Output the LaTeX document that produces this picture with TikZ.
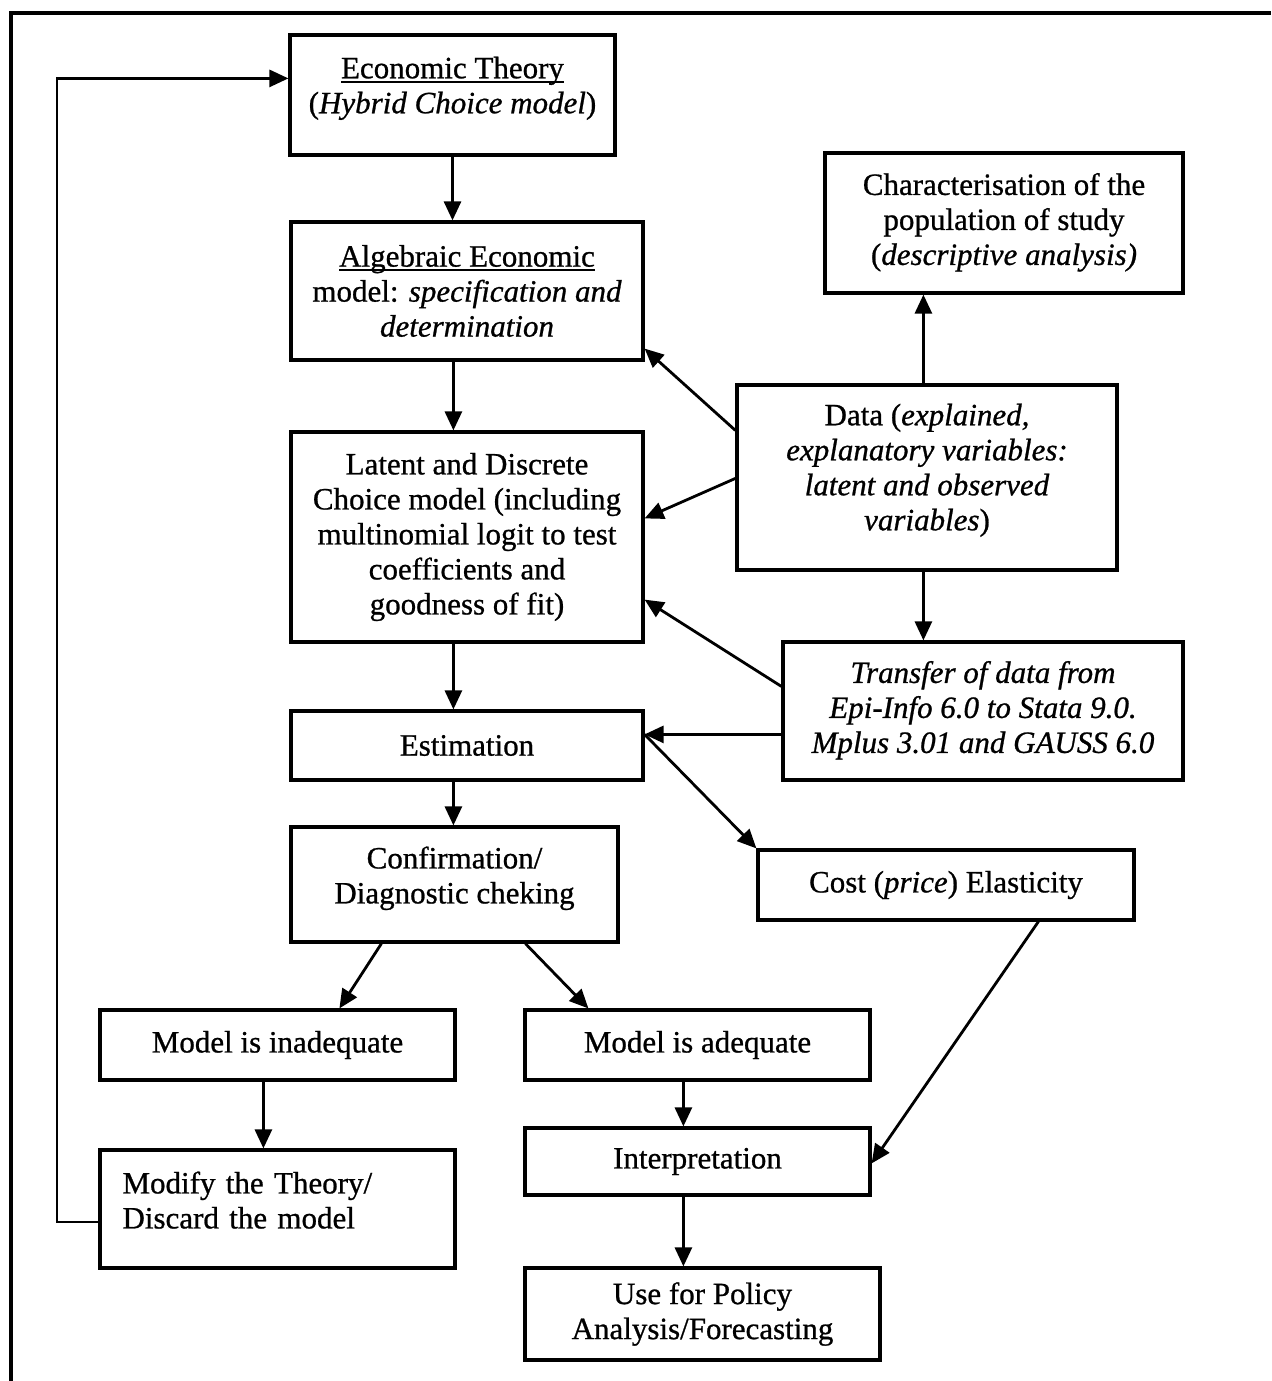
\documentclass[tikz,border=0pt]{standalone}
\usepackage{fontspec}
\setmainfont{Liberation Serif}[FakeBold=0.8]
\usetikzlibrary{arrows.meta,calc}
% extra depth under the last line, lifting the centred text a little
\newcommand{\lift}[1]{\rule[-#1]{0pt}{#1}}
% underline drawn just below the baseline
\newcommand{\uln}[1]{\begingroup\setbox0\hbox{#1}\rlap{\rule[-2.2pt]{\wd0}{0.9pt}}\box0\endgroup}
\tikzset{
  box/.style={draw, line width=1.6pt, rectangle, align=center, inner sep=2pt,
    font=\fontsize{15.5}{17.5}\selectfont},
  arr/.style={line width=1.4pt, -{Triangle[length=9.5pt,width=8.5pt]}},
  frame/.style={line width=1.6pt}
}
\begin{document}
\begin{tikzpicture}[x=0.5pt,y=-0.5pt]
\useasboundingbox (0,0) rectangle (1271,1381);
% outer frame
\draw[frame] (11,1381) -- (11,13) -- (1271,13);

% main chain
\node[box, minimum width=162.5pt, minimum height=60pt] (et) at (452.5,95)
  {\uln{Economic Theory}\\(\textit{Hybrid Choice model})\lift{10pt}};
\node[box, minimum width=176pt, minimum height=69pt] (alg) at (467,291)
  {\uln{Algebraic Economic}\\model: \textit{specification and}\\\textit{determination}};
\node[box, minimum width=176pt, minimum height=105pt] (lat) at (467,537)
  {Latent and Discrete\\Choice model (including\\multinomial logit to test\\coefficients and\\goodness of fit)};
\node[box, minimum width=176pt, minimum height=34.5pt] (est) at (467,745.5) {Estimation};
\node[box, minimum width=163.5pt, minimum height=57.5pt] (conf) at (454.5,884.5)
  {Confirmation/\\Diagnostic cheking\lift{9.5pt}};
\node[box, minimum width=177.5pt, minimum height=35pt] (inad) at (277.5,1045) {Model is inadequate};
\node[box, minimum width=177.5pt, minimum height=59pt, text width=155pt, align=left] (modif) at (277.5,1209)
  {Modify the Theory/\\Discard the model\lift{9pt}};
\node[box, minimum width=172.5pt, minimum height=35pt] (adeq) at (697.5,1045) {Model is adequate};
\node[box, minimum width=172.5pt, minimum height=33.5pt] (interp) at (697.5,1161.5) {Interpretation};
\node[box, minimum width=177.5pt, minimum height=46pt] (use) at (702.5,1314)
  {Use for Policy\\Analysis/Forecasting};

% data side
\node[box, minimum width=179pt, minimum height=70pt] (char) at (1004,223)
  {Characterisation of the\\population of study\\(\textit{descriptive analysis)}\lift{4pt}};
\node[box, minimum width=190pt, minimum height=92.5pt] (data) at (927,477.5)
  {Data (\textit{explained,}\\\textit{explanatory variables:}\\\textit{latent and observed}\\\textit{variables})\lift{10.5pt}};
\node[box, minimum width=200pt, minimum height=69pt] (trans) at (983,711)
  {\textit{Transfer of data from}\\\textit{Epi-Info 6.0 to Stata 9.0.}\\\textit{Mplus 3.01 and GAUSS 6.0}\lift{4pt}};
\node[box, minimum width=188pt, minimum height=35pt] (cost) at (946,885)
  {Cost (\textit{price}) Elasticity};

% vertical flow
\draw[arr] (et.south) -- (et.south |- alg.north);
\draw[arr] ([xshift=82pt]alg.south west) -- ([xshift=82pt]lat.north west);
\draw[arr] ([xshift=82pt]lat.south west) -- ([xshift=82pt]est.north west);
\draw[arr] ([xshift=82pt]est.south west) -- ([xshift=82pt]conf.north west);
\draw[arr] ([xshift=46pt]conf.south west) -- ([xshift=120.5pt]inad.north west);
\draw[arr] ([xshift=118pt]conf.south west) -- ([xshift=32.5pt]adeq.north west);
\draw[arr] ([xshift=82.5pt]inad.south west) -- ([xshift=82.5pt]modif.north west);
\draw[arr] ([xshift=80pt]adeq.south west) -- ([xshift=80pt]interp.north west);
\draw[arr] ([xshift=80pt]interp.south west) -- ([xshift=80pt]use.north west);

% feedback loop
\coordinate (fb) at (57,1222);
\draw[arr] ([yshift=-6.5pt]modif.west) -- (fb) |- ([yshift=-22.5pt]et.north west);

% data connections
\draw[arr] ([xshift=94pt]data.north west) -- ([xshift=94pt]data.north west |- char.south);
\draw[arr] ([xshift=94pt]data.south west) -- ([xshift=94pt]data.south west |- trans.north);
\draw[arr] ([yshift=-23.5pt]data.north west) -- ([yshift=6.5pt]alg.south east);
\draw[arr] ([yshift=-47.5pt]data.north west) -- ([yshift=-44pt]lat.north east);
\draw[arr] ([yshift=-23pt]trans.north west) -- ([yshift=22pt]lat.south east);
\coordinate (estr) at ([yshift=-12.5pt]est.north east);
\draw[arr] ([yshift=-47pt]trans.north west) -- (estr);
\draw[arr] (estr) -- (cost.north west);
\draw[arr] ([xshift=141pt]cost.south west) -- ([yshift=-18.5pt]interp.north east);
\end{tikzpicture}
\end{document}
